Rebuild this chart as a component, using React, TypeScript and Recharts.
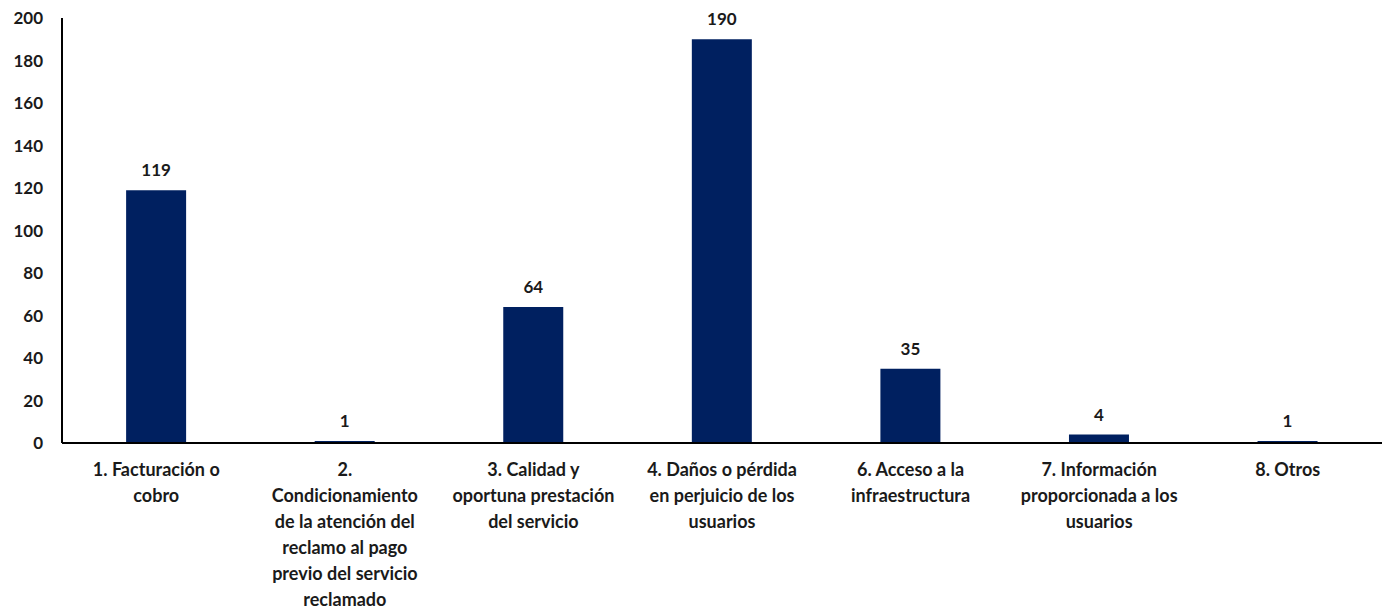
import { BarChart, Bar, XAxis, YAxis, LabelList } from "recharts";

const categories = [
  "1. Facturación o cobro",
  "2. Condicionamiento de la atención del reclamo al pago previo del servicio reclamado",
  "3. Calidad y oportuna prestación del servicio",
  "4. Daños o pérdida en perjuicio de los usuarios",
  "6. Acceso a la infraestructura",
  "7. Información proporcionada a los usuarios",
  "8. Otros",
];
const reclamos = [119, 1, 64, 190, 35, 4, 1];
const yTicks = [0, 20, 40, 60, 80, 100, 120, 140, 160, 180, 200];

const data = categories.map((name, i) => ({ name, value: reclamos[i] }));

const FONT = "Lato, 'Open Sans', sans-serif";
const TICK_FONT_SIZE = 18;
const WRAP_WIDTH = 164;

let ctx: CanvasRenderingContext2D | null = null;
function measure(s: string) {
  if (!ctx) ctx = document.createElement("canvas").getContext("2d");
  if (!ctx) return s.length * 9;
  ctx.font = `700 ${TICK_FONT_SIZE}px ${FONT}`;
  return ctx.measureText(s).width;
}

function wrap(text: string, maxWidth: number) {
  const words = text.split(" ");
  const lines: string[] = [];
  let cur = "";
  words.forEach((w) => {
    const next = cur ? cur + " " + w : w;
    if (cur && measure(next) > maxWidth) {
      lines.push(cur);
      cur = w;
    } else {
      cur = next;
    }
  });
  if (cur) lines.push(cur);
  return lines;
}

function CategoryTick(props: any) {
  const { x, y, payload } = props;
  const lines = wrap(payload.value, WRAP_WIDTH);
  return (
    <text
      x={x}
      y={y + 10}
      textAnchor="middle"
      style={{ fontFamily: FONT, fontWeight: 700, fontSize: TICK_FONT_SIZE, fill: "#1a1a1a" }}
    >
      {lines.map((l, i) => (
        <tspan key={i} x={x} dy={i === 0 ? "0.85em" : 26}>
          {l}
        </tspan>
      ))}
    </text>
  );
}

export default function App() {
  return (
    <div style={{ position: "absolute", left: 0, top: 0, background: "#fff" }}>
      <BarChart
        width={1389}
        height={611}
        data={data}
        margin={{ top: 18, right: 7, bottom: 0, left: 0 }}
        barCategoryGap="34%"
      >
        <XAxis
          dataKey="name"
          interval={0}
          height={168}
          tickLine={false}
          axisLine={{ stroke: "#000", strokeWidth: 2 }}
          tick={<CategoryTick />}
        />
        <YAxis
          width={62}
          domain={[0, 200]}
          ticks={yTicks}
          tickLine={false}
          tickSize={0}
          tickMargin={19}
          axisLine={{ stroke: "#000", strokeWidth: 2 }}
          tick={{ fontFamily: FONT, fontWeight: 700, fontSize: 17, fill: "#1a1a1a" }}
        />
        <Bar dataKey="value" fill="#002060" isAnimationActive={false}>
          <LabelList
            dataKey="value"
            position="top"
            offset={14}
            style={{ fontFamily: FONT, fontWeight: 700, fontSize: 17, fill: "#1a1a1a" }}
          />
        </Bar>
      </BarChart>
    </div>
  );
}
